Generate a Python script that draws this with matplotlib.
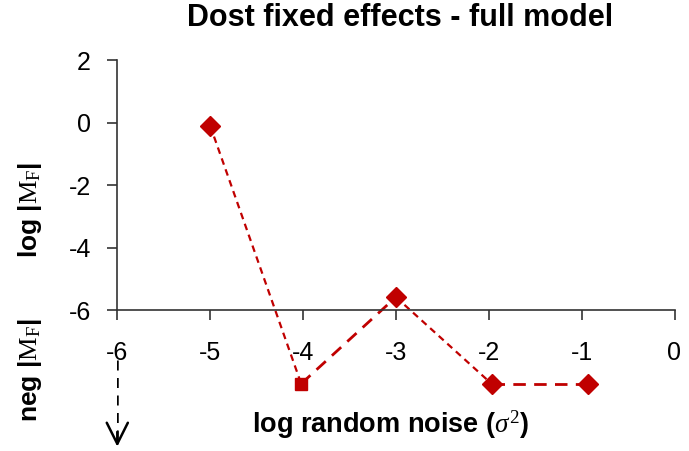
import matplotlib.pyplot as plt

plt.rcParams['font.family'] = 'Liberation Sans'
plt.rcParams['mathtext.fontset'] = 'custom'
plt.rcParams['mathtext.rm'] = 'Liberation Serif'
plt.rcParams['mathtext.it'] = 'Liberation Serif:italic'

# log noise level vs. log |M_F|; values below -6 sit in the "neg" band
noise = [-5.0, -4.02, -3.0, -1.97, -0.93]
logmf = [-0.1, -8.35, -5.58, -8.35, -8.35]
markers = ['D', 's', 'D', 'D', 'D']
xticks = [-6, -5, -4, -3, -2, -1, 0]
yticks = [2, 0, -2, -4, -6]

red = '#C00000'

fig = plt.figure(figsize=(6.89, 4.51), dpi=100)
ax = fig.add_axes([117.3 / 689, 0, (674.5 - 117.3) / 689, (451 - 60) / 451])
ax.set_xlim(-6, 0)
ax.set_ylim(-10.5, 2)

# alternate short/long dashes between consecutive points
dash_short = (0, (3, 2.2))
dash_long = (0, (4.5, 3))
for i in range(len(noise) - 1):
    if i % 2 == 0:
        ls, lw = dash_short, 1.6
    else:
        ls, lw = dash_long, 2.0
    ax.plot(noise[i:i + 2], logmf[i:i + 2], color=red, linestyle=ls, lw=lw, zorder=2)

for x, y, m in zip(noise, logmf, markers):
    ax.plot(x, y, marker=m, color=red, markersize=10 if m == 'D' else 8.5,
            linestyle='none', zorder=3)

ax.spines['top'].set_visible(False)
ax.spines['right'].set_visible(False)
ax.spines['left'].set_bounds(-6, 2)
ax.spines['bottom'].set_position(('data', -6))
for s in ['left', 'bottom']:
    ax.spines[s].set_color('#333333')
    ax.spines[s].set_linewidth(1.2)

ax.set_xticks(xticks)
ax.set_yticks(yticks)
ax.set_xticklabels([str(t) for t in xticks])
ax.set_yticklabels([str(t) for t in yticks])
ax.tick_params(axis='x', direction='out', length=7, width=1.2, color='#333333',
               labelsize=18, pad=15)
ax.tick_params(axis='y', direction='out', length=7, width=1.2, color='#333333',
               labelsize=18, pad=12)

# dashed downward arrow under the -6 tick
ax.plot([-6, -6], [-7.6, -10.2], color='black', linestyle=(0, (4, 3)), lw=1.8)
ax.annotate('', xy=(-6, -10.45), xytext=(-6, -9.8),
            arrowprops=dict(arrowstyle='->', color='black', lw=1.8,
                            mutation_scale=38))

fig.text(400 / 689, 1 - 18 / 451, 'Dost fixed effects - full model',
         ha='center', va='center', fontsize=22, fontweight='bold')
fig.text(30 / 689, 1 - 210 / 451, r'log |$\mathrm{M}_\mathrm{F}$|', rotation=90,
         ha='center', va='center', fontsize=19, fontweight='bold')
fig.text(30 / 689, 1 - 370 / 451, r'neg |$\mathrm{M}_\mathrm{F}$|', rotation=90,
         ha='center', va='center', fontsize=19, fontweight='bold')
fig.text(391 / 689, 1 - 425 / 451, r'log random noise ($\mathit{\sigma}^2$)',
         ha='center', va='center', fontsize=19.5, fontweight='bold')

fig.savefig('out.png', dpi=100)
